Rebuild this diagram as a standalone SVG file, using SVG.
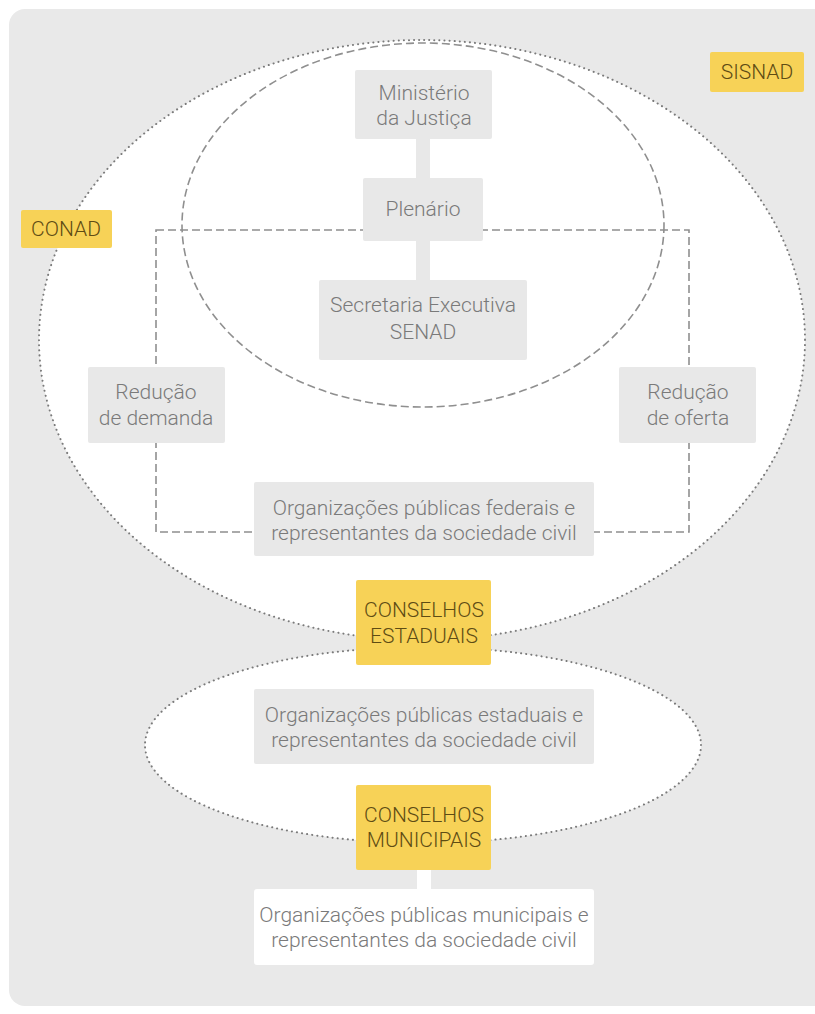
<svg xmlns="http://www.w3.org/2000/svg" width="815" height="1014" viewBox="0 0 815 1014">
<style>
.bg{fill:#e9e9e9}
.zone{fill:#ffffff;stroke:#7a7a7a;stroke-width:2;stroke-dasharray:0.1 5;stroke-linecap:round}
.dash{fill:none;stroke:#8f8f8f;stroke-width:1.6;stroke-dasharray:8 4}
.box{fill:#e8e8e8}
.wbox{fill:#ffffff}
.ybox{fill:#f7d257}
.t{font-family:Roboto,"Liberation Sans",sans-serif;font-weight:300;font-size:21px;fill:#7a7a7a;text-anchor:middle}
.yt{font-family:Roboto,"Liberation Sans",sans-serif;font-weight:300;font-size:21px;fill:#5e4c14;text-anchor:middle}
.bar{fill:#e8e8e8}
</style>
<rect class="bg" x="9" y="9" width="830" height="997" rx="16"/>
<g id="zones">
<ellipse class="zone" cx="422" cy="340" rx="383" ry="300"/>
<ellipse class="zone" cx="423" cy="745" rx="278" ry="98"/>
<ellipse class="dash" cx="423" cy="225" rx="241" ry="182"/>
<rect class="dash" x="156" y="230" width="533" height="302"/>
</g>
<g id="connectors">
<rect class="bar" x="416" y="138" width="14" height="42"/>
<rect class="bar" x="416" y="240" width="14" height="42"/>
<rect class="wbox" x="417" y="868" width="14" height="23"/>
</g>
<g id="sisnad"><rect class="ybox" x="710" y="52" width="94" height="40" rx="2"/><text class="yt" x="757" y="79">SISNAD</text></g>
<g id="conad"><rect class="ybox" x="21" y="210" width="91" height="38" rx="2"/><text class="yt" x="66" y="236">CONAD</text></g>
<g id="ministerio"><rect class="box" x="355" y="70" width="137" height="69" rx="2"/><text class="t" x="424" y="100">Ministério</text><text class="t" x="424" y="125">da Justiça</text></g>
<g id="plenario"><rect class="box" x="363" y="178" width="120" height="63" rx="2"/><text class="t" x="423" y="216">Plenário</text></g>
<g id="secretaria"><rect class="box" x="319" y="280" width="208" height="80" rx="2"/><text class="t" x="423" y="312">Secretaria Executiva</text><text class="t" x="423" y="339">SENAD</text></g>
<g id="demanda"><rect class="box" x="88" y="367" width="137" height="76" rx="2"/><text class="t" x="156" y="399">Redução</text><text class="t" x="156" y="425">de demanda</text></g>
<g id="oferta"><rect class="box" x="619" y="367" width="137" height="76" rx="2"/><text class="t" x="688" y="399">Redução</text><text class="t" x="688" y="425">de oferta</text></g>
<g id="federais"><rect class="box" x="254" y="482" width="340" height="74" rx="2"/><text class="t" x="424" y="515">Organizações públicas federais e</text><text class="t" x="424" y="540">representantes da sociedade civil</text></g>
<g id="estaduais"><rect class="ybox" x="356" y="580" width="135" height="85" rx="2"/><text class="yt" x="424" y="617">CONSELHOS</text><text class="yt" x="424" y="643">ESTADUAIS</text></g>
<g id="org-estaduais"><rect class="box" x="254" y="689" width="340" height="75" rx="2"/><text class="t" x="424" y="722">Organizações públicas estaduais e</text><text class="t" x="424" y="747">representantes da sociedade civil</text></g>
<g id="municipais"><rect class="ybox" x="356" y="785" width="135" height="85" rx="2"/><text class="yt" x="424" y="822">CONSELHOS</text><text class="yt" x="424" y="847">MUNICIPAIS</text></g>
<g id="org-municipais"><rect class="wbox" x="254" y="889" width="340" height="76" rx="3"/><text class="t" x="424" y="922">Organizações públicas municipais e</text><text class="t" x="424" y="947">representantes da sociedade civil</text></g>
</svg>
